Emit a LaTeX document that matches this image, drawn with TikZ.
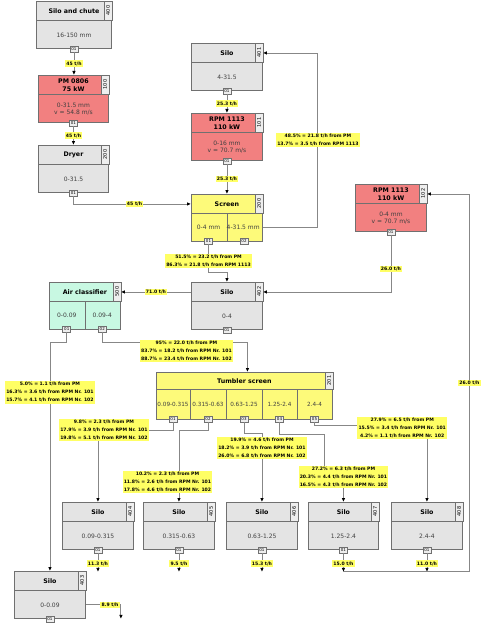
\documentclass[tikz,border=0pt]{standalone}
\usepackage{fontspec}
\setmainfont{DejaVu Sans}
\usetikzlibrary{arrows.meta,calc}

\definecolor{boxgray}{RGB}{228,228,228}
\definecolor{boxred}{RGB}{242,128,128}
\definecolor{boxyellow}{RGB}{253,250,122}
\definecolor{boxmint}{RGB}{200,248,226}
\definecolor{edge}{RGB}{112,112,112}
\definecolor{tabfill}{RGB}{238,238,238}
\definecolor{flowyellow}{RGB}{255,255,100}
\definecolor{pipe}{RGB}{135,135,135}

\tikzset{
  unit/.style={draw=edge, line width=0.9pt, anchor=north west, minimum height=47pt, inner sep=0pt},
  head/.style={draw=edge, line width=0.9pt, anchor=north west, inner sep=0pt, align=center, font=\fontsize{6.3}{7.7}\selectfont\bfseries},
  tab/.style={draw=edge, line width=0.6pt, fill=tabfill, rotate=90, minimum width=19pt, minimum height=7.5pt, inner sep=0pt, font=\fontsize{5}{5}\selectfont},
  body/.style={align=center, inner sep=0pt, text=black!75, font=\fontsize{6}{6.8}\selectfont},
  divider/.style={draw=edge, line width=0.9pt},
  port/.style={draw=edge, line width=0.6pt, fill=tabfill, minimum width=8pt, minimum height=6pt, inner sep=0pt, font=\fontsize{4}{4}\selectfont},
  pipe/.style={draw=pipe, line width=0.85pt},
  feed/.style={pipe, -{Latex[length=4pt,width=3.6pt,color=black]}},
  flow/.style={fill=flowyellow, inner sep=1.2pt, align=center, font=\fontsize{4.6}{8}\selectfont\bfseries},
}

% one plant unit: name, left, top, width, fill, title, number, body
\newcommand{\hdh}{19}
\newcommand{\plant}[8]{%
  \node[unit, fill=#5, minimum width=#4pt] (#1) at (#2,#3) {};
  \node[head, fill=#5, minimum width=#4pt, minimum height=\hdh*1pt] (#1-h) at (#2,#3) {#6};
  \node[tab, minimum width=\hdh*1pt] (#1-t) at ($(#1-h.north east)+(-3.75,\hdh/2)$) {#7};
  \node[body] (#1-b) at ($(#1-h.south)!0.5!(#1.south)$) {#8};
}

\begin{document}
\begin{tikzpicture}[x=1pt, y=-1pt]
\useasboundingbox (0,0) rectangle (480,623);

% units
\plant{silo400}{36}{1}{75}{boxgray}{Silo and chute}{400}{16-150 mm}
\plant{pm100}{38}{75}{70}{boxred}{PM 0806\\75 kW}{100}{0-31.5 mm\\v = 54.8 m/s}
\plant{dryer200}{38}{145}{70}{boxgray}{Dryer}{200}{0-31.5}
\plant{silo401}{191}{43}{71}{boxgray}{Silo}{401}{4-31.5}
\plant{rpm101}{191}{113}{71}{boxred}{RPM 1113\\110 kW}{101}{0-16 mm\\v = 70.7 m/s}
\plant{screen200}{191}{194}{71}{boxyellow}{Screen}{200}{}
\plant{rpm102}{355}{184}{71}{boxred}{RPM 1113\\110 kW}{102}{0-4 mm\\v = 70.7 m/s}
\plant{silo402}{191}{282}{71}{boxgray}{Silo}{402}{0-4}
\plant{air500}{49}{282}{71}{boxmint}{Air classifier}{500}{}
\renewcommand{\hdh}{17}
\plant{tumbler201}{156}{372}{176}{boxyellow}{Tumbler screen}{201}{}
\renewcommand{\hdh}{19}
\plant{silo404}{62}{502}{71}{boxgray}{Silo}{404}{0.09-0.315}
\plant{silo405}{143}{502}{71}{boxgray}{Silo}{405}{0.315-0.63}
\plant{silo406}{226}{502}{71}{boxgray}{Silo}{406}{0.63-1.25}
\plant{silo407}{308}{502}{70}{boxgray}{Silo}{407}{1.25-2.4}
\plant{silo408}{391}{502}{71}{boxgray}{Silo}{408}{2.4-4}
\plant{silo403}{14}{571}{71}{boxgray}{Silo}{403}{0-0.09}

% cells
\draw[divider] (screen200-h.south) -- (screen200.south);
\node[body] (screen200-b1) at (208.5,227.5) {0-4 mm};
\node[body, anchor=west] (screen200-b2) at (226.5,227.5) {4-31.5 mm};
\node[port] (screen200-p1) at (208.5,241) {01};
\node[port] (screen200-p2) at (244,241) {02};

\draw[divider] (air500-h.south) -- (air500.south);
\node[body] (air500-b1) at (66.75,315) {0-0.09};
\node[body] (air500-b2) at (102.25,315) {0.09-4};
\node[port] (air500-p1) at (66.75,329) {01};
\node[port] (air500-p2) at (102.25,329) {02};

\foreach \i/\xa/\xb/\txt in {1/156/190/0.09-0.315, 2/190/226/0.315-0.63, 3/226/262/0.63-1.25, 4/262/297/1.25-2.4, 5/297/332/2.4-4}{
	\draw[divider] (\xa,389) -- (\xa,419);
	\node[body, font=\fontsize{5.7}{6}\selectfont] (tumbler201-b\i) at ({(\xa+\xb)/2},404) {\txt};
	\node[port] (tumbler201-p\i) at ({(\xa+\xb)/2},419) {0\i};
}

\foreach \s in {silo400, pm100, dryer200, silo401, rpm101, rpm102, silo402, silo403, silo404, silo405, silo406, silo407, silo408}{
	\node[port] (\s-p) at (\s.south) {01};
}

% flows
\draw[feed] (silo400-p) -- (silo400-p |- pm100.north) node[flow, midway] {45 t/h};
\draw[feed] (pm100-p) -- (pm100-p |- dryer200.north) node[flow, midway] {45 t/h};
\draw[feed] (dryer200-p) |- (screen200-h.west) node[flow, pos=0.76] {45 t/h};
\draw[feed] (silo401-p) -- (silo401-p |- rpm101.north) node[flow, midway] {25.3 t/h};
\draw[feed] (rpm101-p) -- (rpm101-p |- screen200.north) node[flow, midway] {25.3 t/h};
\draw[feed] (screen200.east |- screen200-b2) -- ++(55,0) |- (silo401-h.east)
	node[flow, pos=0.25] {48.5\% = 21.8 t/h from PM\\13.7\% = 3.5 t/h from RPM 1113};
\draw[feed] (screen200-p1) -- ++(0,31)
	node[flow, pos=0.6] {51.5\% = 23.2 t/h from PM\\86.3\% = 21.8 t/h from RPM 1113} -| (silo402.north);
\draw[feed] (rpm102-p) |- (silo402-h.east) node[flow, pos=0.3] {26.0 t/h};
\draw[feed] (silo402-h.west) -- (air500-h.east) node[flow, midway] {71.0 t/h};

\draw[feed] (air500-p1) -- ++(0,13) -| (silo403.north)
	node[flow, pos=0.61] {5.0\% = 1.1 t/h from PM\\16.3\% = 3.6 t/h from RPM Nr. 101\\15.7\% = 4.1 t/h from RPM Nr. 102};
\draw[feed] (air500-p2) -- ++(0,13) -| ([xshift=3pt]tumbler201.north)
	node[flow, pos=0.29, anchor=north, yshift=2.5pt] {95\% = 22.0 t/h from PM\\83.7\% = 18.2 t/h from RPM Nr. 101\\88.7\% = 23.4 t/h from RPM Nr. 102};

\draw[feed] (tumbler201-p1) -- ++(0,11) -| (silo404.north)
	node[flow, pos=0.46] {9.8\% = 2.3 t/h from PM\\17.9\% = 3.9 t/h from RPM Nr. 101\\19.8\% = 5.1 t/h from RPM Nr. 102};
\draw[feed] (tumbler201-p2) -- ++(0,11) -| (silo405.north)
	node[flow, pos=0.86, xshift=-11.5pt] {10.2\% = 2.3 t/h from PM\\11.8\% = 2.6 t/h from RPM Nr. 101\\17.8\% = 4.6 t/h from RPM Nr. 102};
\draw[feed] (tumbler201-p3) -- ++(0,14) -| (silo406.north)
	node[flow, pos=0.61] {19.9\% = 4.6 t/h from PM\\18.2\% = 3.9 t/h from RPM Nr. 101\\26.0\% = 6.8 t/h from RPM Nr. 102};
\draw[feed] (tumbler201-p4) -- ++(0,15) -- ++(44.5,0) -- ++(0,43) -| (silo407.north)
	node[flow, pos=0.5] {27.2\% = 6.3 t/h from PM\\20.3\% = 4.4 t/h from RPM Nr. 101\\16.5\% = 4.3 t/h from RPM Nr. 102};
\draw[feed] (tumbler201-p5) -- ++(0,6) -| (silo408.north)
	node[flow, pos=0.39, yshift=-3pt] {27.9\% = 6.5 t/h from PM\\15.5\% = 3.4 t/h from RPM Nr. 101\\4.2\% = 1.1 t/h from RPM Nr. 102};

\foreach \s/\v in {silo404/11.3, silo405/9.5, silo406/15.3, silo408/11.0}{
	\draw[feed] (\s-p) -- ++(0,22) node[flow, pos=0.55] {\v{} t/h};
}
\draw[feed] (silo407-p) -- ++(0,22) node[flow, pos=0.55] {15.0 t/h} coordinate (back407);
\draw[feed] (back407) -- ++(126,0) |- (rpm102-h.east) node[flow, pos=0.25] {26.0 t/h};

\draw[feed] (silo403.east |- silo403-b) -- ++(35,0) node[flow, pos=0.69] {8.9 t/h} -- ++(0,14);

\end{tikzpicture}
\end{document}
